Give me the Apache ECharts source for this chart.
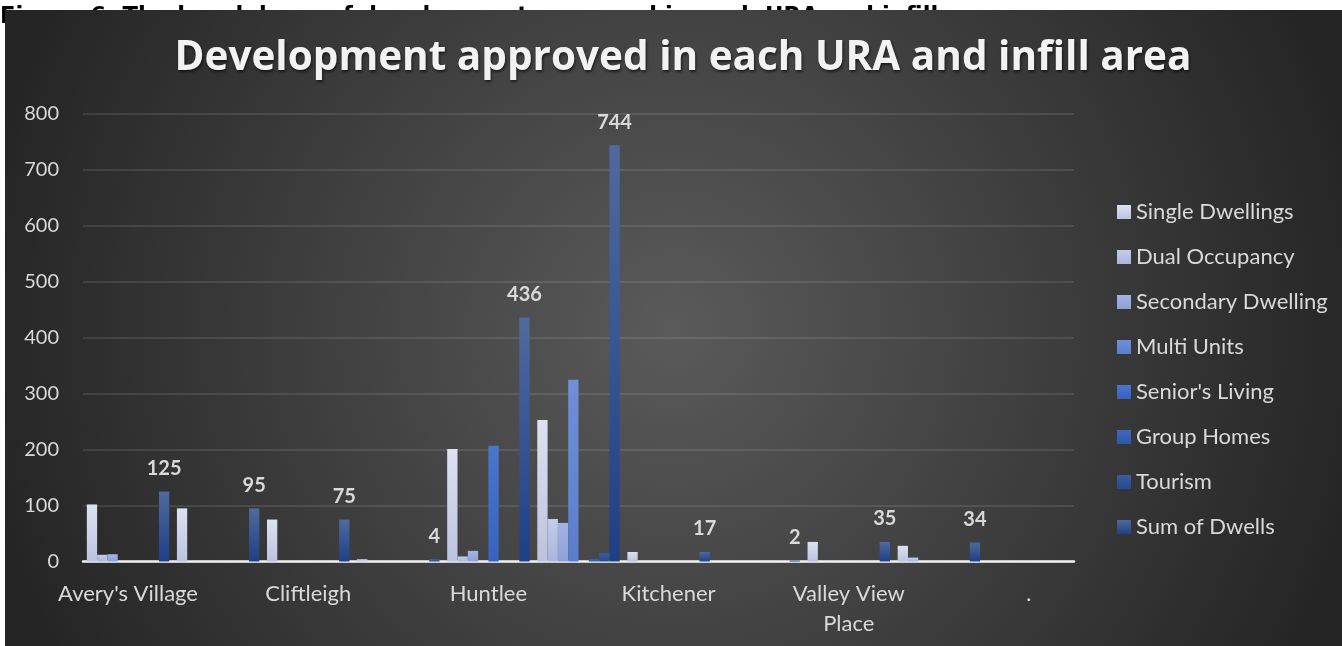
<!DOCTYPE html>
<html>
<head>
<meta charset="utf-8">
<title>Development approved in each URA and infill area</title>
<script src="https://cdn.jsdelivr.net/npm/echarts@6/dist/echarts.min.js"></script>
<style>
  html, body { margin: 0; padding: 0; background: #fff; }
  #chart { width: 1342px; height: 646px; }
</style>
</head>
<body>
<div id="chart"></div>
<script>
// categories (odd ones have hidden labels in the original)
const categories = ["Avery's Village", '', 'Cliftleigh', '', 'Huntlee', '', 'Kitchener', '', 'Valley View Place', '', '.']
const seriesNames = ['Single Dwellings', 'Dual Occupancy', 'Secondary Dwelling', 'Multi Units', "Senior's Living", 'Group Homes', 'Tourism', 'Sum of Dwells']
const yTicks = [0, 100, 200, 300, 400, 500, 600, 700, 800]

const singleDwellings = [102, 95, 75, 4, 201, 253, 17, 0, 35, 28, 0]
const dualOccupancy = [12, 0, 0, 0, 9, 76, 0, 0, 0, 7, 0]
const secondaryDwelling = [13, 0, 0, 0, 19, 69, 0, 0, 0, 0, 0]
const multiUnits = [0, 0, 0, 0, 0, 325, 0, 0, 0, 0, 0]
const seniorsLiving = [0, 0, 0, 0, 207, 0, 0, 0, 0, 0, 0]
const groupHomes = [0, 0, 0, 0, 0, 4, 0, 0, 0, 0, 0]
const tourism = [0, 0, 0, 0, 0, 15, 0, 0, 0, 0, 0]
const sumOfDwells = [125, 95, 75, 4, 436, 744, 17, 2, 35, 34, null]

const seriesData = [singleDwellings, dualOccupancy, secondaryDwelling, multiUnits, seniorsLiving, groupHomes, tourism, sumOfDwells]

// top / bottom colours of each bar gradient
const barColors = [
  ['#dde1f2', '#bcc3df'],
  ['#c3cceb', '#a9b5dc'],
  ['#a3b4e3', '#8ea1d6'],
  ['#6f8fd8', '#5b7dcc'],
  ['#4a77cc', '#3563be'],
  ['#4068b8', '#2e58aa'],
  ['#3b5c9f', '#27498e'],
  ['#506a9f', '#1f3f86']
]

const font = 'Lato'
const textColor = '#d9d9d9'

const chart = echarts.init(document.getElementById('chart'))

const series = seriesNames.map((name, i) => {
  const s = {
    name: name,
    type: 'bar',
    barGap: '0%',
    barCategoryGap: '8.5%',
    itemStyle: {
      color: new echarts.graphic.LinearGradient(0, 0, 0, 1, [
        { offset: 0, color: barColors[i][0] },
        { offset: 1, color: barColors[i][1] }
      ])
    },
    data: seriesData[i]
  }
  if (i === seriesNames.length - 1) {
    s.label = {
      show: true,
      position: 'top',
      distance: 13,
      color: textColor,
      fontFamily: font,
      fontWeight: 'bold',
      fontSize: 20
    }
  }
  return s
})

const option = {
  animation: false,
  graphic: [
    {
      type: 'text',
      z: -12,
      style: {
        text: 'Figure 6. The breakdown of development approved in each URA and infill area.',
        x: 0,
        y: 6,
        verticalAlign: 'alphabetic',
        font: 'bold 22.7px "DejaVu Sans"',
        fill: '#000'
      }
    },
    {
      type: 'rect',
      z: -10,
      shape: { x: 5, y: 10, width: 1337, height: 636 },
      style: {
        fill: new echarts.graphic.RadialGradient(0.5, 0.5, 1.1, [
          { offset: 0, color: '#5a5a5a' },
          { offset: 1, color: '#252525' }
        ])
      }
    }
  ],
  title: {
    text: 'Development approved in each URA and infill area',
    left: 678,
    top: 33,
    textAlign: 'center',
    textStyle: {
      color: '#f2f2f2',
      fontFamily: 'Open Sans',
      fontWeight: 'bold',
      fontSize: 40.5,
      textShadowColor: 'rgba(0,0,0,0.6)',
      textShadowBlur: 3,
      textShadowOffsetX: 1,
      textShadowOffsetY: 2
    }
  },
  legend: {
    orient: 'vertical',
    left: 1112,
    top: 196,
    itemWidth: 14,
    itemHeight: 14,
    itemGap: 23,
    icon: 'rect',
    textStyle: {
      color: textColor,
      fontFamily: font,
      fontSize: 22
    },
    data: seriesNames
  },
  grid: {
    left: 83,
    top: 114,
    width: 991,
    height: 447.5
  },
  xAxis: {
    type: 'category',
    data: categories,
    axisLine: { lineStyle: { color: '#f2f2f2', width: 2.5 } },
    axisTick: { show: false },
    axisLabel: {
      interval: 1,
      color: textColor,
      fontFamily: font,
      fontSize: 22,
      margin: 17,
      lineHeight: 30,
      formatter: v => v.replace('Valley View ', 'Valley View\n')
    }
  },
  yAxis: {
    type: 'value',
    min: yTicks[0],
    max: yTicks[yTicks.length - 1],
    interval: 100,
    axisLine: { show: false },
    axisTick: { show: false },
    axisLabel: {
      color: textColor,
      fontFamily: font,
      fontSize: 20,
      margin: 24
    },
    splitLine: { lineStyle: { color: 'rgba(255,255,255,0.1)', width: 2 } }
  },
  series: series
}

chart.setOption(option)
</script>
</body>
</html>
